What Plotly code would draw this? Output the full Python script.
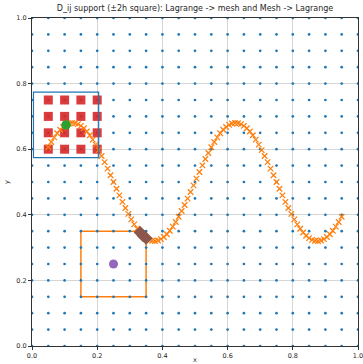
import plotly.graph_objects as go

# Mesh nodes (h = 0.05)
h = 0.05
mesh_ticks = [0.0, 0.05, 0.1, 0.15, 0.2, 0.25, 0.3, 0.35, 0.4, 0.45, 0.5,
              0.55, 0.6, 0.65, 0.7, 0.75, 0.8, 0.85, 0.9, 0.95, 1.0]

# Lagrange points
lag_x = [0.0500, 0.0591, 0.0682, 0.0773, 0.0864, 0.0955, 0.1045, 0.1136, 0.1227, 0.1318,
         0.1409, 0.1500, 0.1591, 0.1682, 0.1773, 0.1864, 0.1955, 0.2045, 0.2136, 0.2227,
         0.2318, 0.2409, 0.2500, 0.2591, 0.2682, 0.2773, 0.2864, 0.2955, 0.3045, 0.3136,
         0.3227, 0.3318, 0.3409, 0.3500, 0.3591, 0.3682, 0.3773, 0.3864, 0.3955, 0.4045,
         0.4136, 0.4227, 0.4318, 0.4409, 0.4500, 0.4591, 0.4682, 0.4773, 0.4864, 0.4955,
         0.5045, 0.5136, 0.5227, 0.5318, 0.5409, 0.5500, 0.5591, 0.5682, 0.5773, 0.5864,
         0.5955, 0.6045, 0.6136, 0.6227, 0.6318, 0.6409, 0.6500, 0.6591, 0.6682, 0.6773,
         0.6864, 0.6955, 0.7045, 0.7136, 0.7227, 0.7318, 0.7409, 0.7500, 0.7591, 0.7682,
         0.7773, 0.7864, 0.7955, 0.8045, 0.8136, 0.8227, 0.8318, 0.8409, 0.8500, 0.8591,
         0.8682, 0.8773, 0.8864, 0.8955, 0.9045, 0.9136, 0.9227, 0.9318, 0.9409, 0.9500]
lag_y = [0.6058, 0.6217, 0.6360, 0.6486, 0.6592, 0.6677, 0.6741, 0.6782, 0.6799, 0.6793,
         0.6764, 0.6712, 0.6637, 0.6541, 0.6426, 0.6291, 0.6139, 0.5973, 0.5794, 0.5605,
         0.5408, 0.5205, 0.5000, 0.4795, 0.4592, 0.4395, 0.4206, 0.4027, 0.3861, 0.3709,
         0.3574, 0.3459, 0.3363, 0.3288, 0.3236, 0.3207, 0.3201, 0.3218, 0.3259, 0.3323,
         0.3408, 0.3514, 0.3640, 0.3783, 0.3942, 0.4115, 0.4299, 0.4493, 0.4693, 0.4897,
         0.5103, 0.5307, 0.5507, 0.5701, 0.5885, 0.6058, 0.6217, 0.6360, 0.6486, 0.6592,
         0.6677, 0.6741, 0.6782, 0.6799, 0.6793, 0.6764, 0.6712, 0.6637, 0.6541, 0.6426,
         0.6291, 0.6139, 0.5973, 0.5794, 0.5605, 0.5408, 0.5205, 0.5000, 0.4795, 0.4592,
         0.4395, 0.4206, 0.4027, 0.3861, 0.3709, 0.3574, 0.3459, 0.3363, 0.3288, 0.3236,
         0.3207, 0.3201, 0.3218, 0.3259, 0.3323, 0.3408, 0.3514, 0.3640, 0.3783, 0.3942]

lag_index = 6                 # Lagrange point whose support is shown
mesh_node = [0.25, 0.25]      # mesh node whose support is shown
tick_vals = [0.0, 0.2, 0.4, 0.6, 0.8, 1.0]
tick_text = ["0.0", "0.2", "0.4", "0.6", "0.8", "1.0"]

support = 2 * h
BLUE, ORANGE, GREEN, RED, PURPLE, BROWN = "#1f77b4", "#ff7f0e", "#2ca02c", "#d62728", "#9467bd", "#8c564b"

mx = [x for x in mesh_ticks for _ in mesh_ticks]
my = [y for _ in mesh_ticks for y in mesh_ticks]

px, py = lag_x[lag_index], lag_y[lag_index]
red_x, red_y = [], []
for x, y in zip(mx, my):
    if abs(x - px) <= support and abs(y - py) <= support:
        red_x.append(x); red_y.append(y)

nx, ny = mesh_node
brown_x, brown_y = [], []
for x, y in zip(lag_x, lag_y):
    if abs(x - nx) <= support + 1e-9 and abs(y - ny) <= support + 1e-9:
        brown_x.append(x); brown_y.append(y)

fig = go.Figure()
fig.add_trace(go.Scatter(x=mx, y=my, mode="markers",
                         marker=dict(color=BLUE, size=2.7, line=dict(width=0)), hoverinfo="skip"))
fig.add_trace(go.Scatter(x=red_x, y=red_y, mode="markers",
                         marker=dict(color=RED, size=9, symbol="square", opacity=0.9,
                                     line=dict(width=0))))
fig.add_trace(go.Scatter(x=lag_x, y=lag_y, mode="markers",
                         marker=dict(color=ORANGE, size=5.5, symbol="x-thin",
                                     line=dict(width=1.3, color=ORANGE))))
fig.add_trace(go.Scatter(x=[px], y=[py], mode="markers",
                         marker=dict(color=GREEN, size=9.5, line=dict(width=0))))
fig.add_trace(go.Scatter(x=[nx], y=[ny], mode="markers",
                         marker=dict(color=PURPLE, size=9, line=dict(width=0))))
fig.add_trace(go.Scatter(x=brown_x, y=brown_y, mode="markers",
                         marker=dict(color=BROWN, size=10, symbol="diamond", line=dict(width=0))))

fig.add_shape(type="rect", x0=px - support, x1=px + support, y0=py - support, y1=py + support,
              line=dict(color=BLUE, width=1.2), layer="above")
fig.add_shape(type="rect", x0=nx - support, x1=nx + support, y0=ny - support, y1=ny + support,
              line=dict(color=ORANGE, width=1.5), layer="below")

axis_common = dict(range=[0, 1], tickvals=tick_vals, ticktext=tick_text,
                   showgrid=True, gridcolor="#d6d6d6", gridwidth=1,
                   showline=True, linecolor="#333333", linewidth=1, mirror=True,
                   ticks="outside", ticklen=3, tickcolor="#333333",
                   tickfont=dict(size=6.5, color="#262626"), zeroline=False,
                   automargin=False, ticklabeloverflow="allow")

fig.update_layout(
    width=363, height=364,
    margin=dict(l=32, r=5, t=18, b=18),
    paper_bgcolor="white", plot_bgcolor="white",
    showlegend=False,
    font=dict(family="DejaVu Sans", color="#262626"),
    title=dict(text="D_ij support (±2h square): Lagrange -> mesh and Mesh -> Lagrange",
               xref="paper", x=0.5, xanchor="center", y=0.985, yanchor="top",
               font=dict(size=8, color="#262626")),
    xaxis=dict(axis_common, title=dict(text="x", font=dict(size=6.5), standoff=1)),
    yaxis=dict(axis_common, title=dict(text="y", font=dict(size=6.5), standoff=6)),
)

fig.write_html("out.html", config={"displayModeBar": False},
               post_script="document.body.style.margin='0';document.body.style.overflow='hidden';")
